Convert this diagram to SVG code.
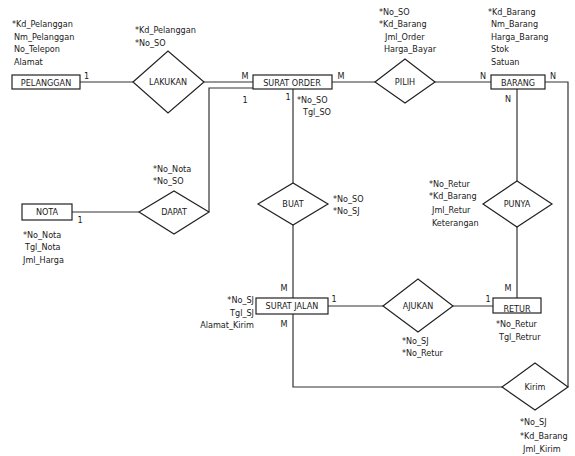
<svg xmlns="http://www.w3.org/2000/svg" width="575" height="456" viewBox="0 0 575 456">
<style>
text{font-family:"DejaVu Sans Condensed","DejaVu Sans","Liberation Sans",sans-serif;font-size:9px;fill:#1a1a1a}
.c{text-anchor:middle}
.r{text-anchor:end}
.ent{fill:#fff;stroke:#222;stroke-width:1.2}
.rel{fill:#fff;stroke:#222;stroke-width:1.2}
.ln{fill:none;stroke:#333;stroke-width:1.2}
</style>
<rect width="575" height="456" fill="#fff"/>
<g id="connectors">
<line class="ln" x1="80" y1="82" x2="133" y2="82"/>
<line class="ln" x1="204" y1="82" x2="253" y2="82"/>
<polyline class="ln" points="209,212 209,88 253,88"/>
<line class="ln" x1="72" y1="212" x2="139" y2="212"/>
<line class="ln" x1="293" y1="89" x2="293" y2="183"/>
<line class="ln" x1="293" y1="225" x2="293" y2="298"/>
<line class="ln" x1="332" y1="82" x2="375" y2="82"/>
<line class="ln" x1="435" y1="82" x2="491" y2="82"/>
<line class="ln" x1="517" y1="89" x2="517" y2="181"/>
<line class="ln" x1="517" y1="227" x2="517" y2="298"/>
<line class="ln" x1="328" y1="306" x2="383" y2="306"/>
<line class="ln" x1="453" y1="306" x2="493" y2="306"/>
<polyline class="ln" points="293,314 293,387 502,387"/>
<polyline class="ln" points="545,82 568,82 568,387"/>
<text x="84" y="79">1</text>
<text x="245" y="79" class="c">M</text>
<text x="245" y="103" class="c">1</text>
<text x="288" y="100" class="c">1</text>
<text x="341" y="79" class="c">M</text>
<text x="483" y="79" class="c">N</text>
<text x="553" y="79" class="c">N</text>
<text x="508" y="102" class="c">N</text>
<text x="80" y="223" class="c">1</text>
<text x="284" y="291" class="c">M</text>
<text x="284" y="327" class="c">M</text>
<text x="334" y="302" class="c">1</text>
<text x="488" y="302" class="c">1</text>
<text x="508" y="291" class="c">M</text>
</g>
<g id="pelanggan">
<rect class="ent" x="12" y="75" width="68" height="14"/>
<text x="46" y="86" class="c">PELANGGAN</text>
<text x="12" y="27">*Kd_Pelanggan</text>
<text x="14" y="39.5">Nm_Pelanggan</text>
<text x="14" y="52">No_Telepon</text>
<text x="14" y="64.5">Alamat</text>
</g>
<g id="lakukan">
<polygon class="rel" points="133,82 168,51 204,82 168,113"/>
<text x="168" y="85" class="c">LAKUKAN</text>
<text x="135" y="33">*Kd_Pelanggan</text>
<text x="135" y="45.5">*No_SO</text>
</g>
<g id="surat-order">
<rect class="ent" x="253" y="75" width="79" height="14"/>
<text x="292" y="86" class="c">SURAT ORDER</text>
<text x="297" y="103">*No_SO</text>
<text x="303" y="115">Tgl_SO</text>
</g>
<g id="pilih">
<polygon class="rel" points="375,82 405,59 435,82 405,103"/>
<text x="405" y="85" class="c">PILIH</text>
<text x="379" y="15">*No_SO</text>
<text x="379" y="27">*Kd_Barang</text>
<text x="385" y="40">Jml_Order</text>
<text x="384" y="52">Harga_Bayar</text>
</g>
<g id="barang">
<rect class="ent" x="491" y="75" width="54" height="14"/>
<text x="518" y="86" class="c">BARANG</text>
<text x="488" y="15">*Kd_Barang</text>
<text x="491" y="27">Nm_Barang</text>
<text x="491" y="40">Harga_Barang</text>
<text x="491" y="52">Stok</text>
<text x="491" y="65">Satuan</text>
</g>
<g id="nota">
<rect class="ent" x="22" y="204" width="50" height="16"/>
<text x="47" y="215" class="c">NOTA</text>
<text x="23" y="238">*No_Nota</text>
<text x="25" y="250">Tgl_Nota</text>
<text x="23" y="263">Jml_Harga</text>
</g>
<g id="dapat">
<polygon class="rel" points="139,212 174,191 209,212 174,234"/>
<text x="174" y="215" class="c">DAPAT</text>
<text x="153" y="172">*No_Nota</text>
<text x="153" y="184">*No_SO</text>
</g>
<g id="buat">
<polygon class="rel" points="258,204 293,183 328,204 293,225"/>
<text x="293" y="207" class="c">BUAT</text>
<text x="333" y="202">*No_SO</text>
<text x="333" y="214">*No_SJ</text>
</g>
<g id="punya">
<polygon class="rel" points="483,204 517,181 552,204 517,227"/>
<text x="517" y="207" class="c">PUNYA</text>
<text x="429" y="187">*No_Retur</text>
<text x="429" y="199">*Kd_Barang</text>
<text x="432" y="213">Jml_Retur</text>
<text x="432" y="226">Keterangan</text>
</g>
<g id="surat-jalan">
<rect class="ent" x="256" y="298" width="72" height="16"/>
<text x="292" y="309" class="c">SURAT JALAN</text>
<text x="254" y="303" class="r">*No_SJ</text>
<text x="254" y="315.5" class="r">Tgl_SJ</text>
<text x="254" y="328" class="r">Alamat_Kirim</text>
</g>
<g id="ajukan">
<polygon class="rel" points="383,306 418,279 453,306 418,332"/>
<text x="418" y="309" class="c">AJUKAN</text>
<text x="402" y="344">*No_SJ</text>
<text x="402" y="356">*No_Retur</text>
</g>
<g id="retur">
<rect class="ent" x="493" y="298" width="48" height="15"/>
<text x="517" y="312" class="c">RETUR</text>
<text x="496" y="327">*No_Retur</text>
<text x="499" y="340">Tgl_Retrur</text>
</g>
<g id="kirim">
<polygon class="rel" points="502,387 535,363 568,387 535,410"/>
<text x="535" y="390" class="c">Kirim</text>
<text x="520" y="425">*No_SJ</text>
<text x="520" y="439">*Kd_Barang</text>
<text x="523" y="452">Jml_Kirim</text>
</g>
</svg>
